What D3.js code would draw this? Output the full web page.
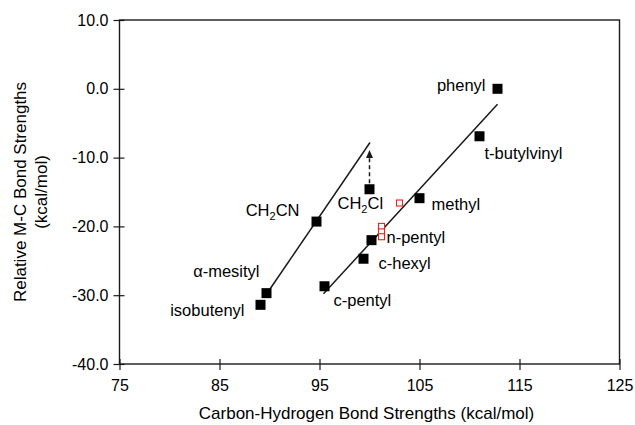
<!DOCTYPE html>
<html>
<head>
<meta charset="utf-8">
<script src="https://cdn.jsdelivr.net/npm/d3@7/dist/d3.min.js"></script>
<style>
  html, body { margin: 0; padding: 0; background: #fff; }
  svg { display: block; font-family: "Liberation Sans", Arial, sans-serif; }
</style>
</head>
<body>
<svg id="chart" width="635" height="425"></svg>
<script>
// ---- data ----
const pointNames = ["phenyl", "t-butylvinyl", "methyl", "CH2Cl", "n-pentyl", "c-hexyl", "c-pentyl", "CH2CN", "α-mesityl", "isobutenyl"];
const chBond   = [112.8, 111.0, 105.0, 100.0, 100.2, 99.4, 95.5, 94.7, 89.7, 89.1];
const mcBond   = [0.0, -6.9, -15.9, -14.6, -22.0, -24.7, -28.7, -19.3, -29.7, -31.4];

const openX = [103.0, 101.2, 101.2, 101.2];
const openY = [-16.6, -20.0, -20.8, -21.5];

const fitLeftX  = [90.05, 100.05];
const fitLeftY  = [-29.1, -7.8];
const fitRightX = [95.4, 112.8];
const fitRightY = [-29.8, -2.25];

const arrowX = [100.0, 100.0];
const arrowY = [-14.6, -8.9];

const xTicks = [75, 85, 95, 105, 115, 125];
const yTicks = [10, 0, -10, -20, -30, -40];

// label placement (pixel offsets from the marker, anchor)
const labelOffsets = {
  "phenyl": [-12, 2, "end"],
  "t-butylvinyl": [5, 23, "start"],
  "methyl": [12, 12, "start"],
  "CH2Cl": [-32, 20, "start"],
  "n-pentyl": [15, 3, "start"],
  "c-hexyl": [15, 10, "start"],
  "c-pentyl": [9, 20, "start"],
  "CH2CN": [-17, -6, "end"],
  "α-mesityl": [-7, -16, "end"],
  "isobutenyl": [-16, 11, "end"]
};

// ---- layout ----
const svg = d3.select("#chart");
const pLeft = 119.5, pRight = 619.5, pTop = 20, pBottom = 364;
const x = d3.scaleLinear().domain([75, 125]).range([pLeft, pRight]);
const y = d3.scaleLinear().domain([-40, 10]).range([pBottom, pTop]);
const ink = "#1a1a1a";

// frame
svg.append("rect")
  .attr("x", pLeft).attr("y", pTop)
  .attr("width", pRight - pLeft).attr("height", pBottom - pTop)
  .attr("fill", "none").attr("stroke", ink).attr("stroke-width", 1.4);

// x axis
const xAxis = d3.axisBottom(x).tickValues(xTicks).tickFormat(d => String(d)).tickSizeInner(6).tickSizeOuter(0).tickPadding(10);
const gx = svg.append("g").attr("transform", `translate(0,${pBottom})`).call(xAxis);
gx.select(".domain").remove();
gx.selectAll(".tick line").attr("y1", -5).attr("y2", 6).attr("stroke", ink).attr("stroke-width", 1.2);
gx.selectAll(".tick text").attr("font-size", 16).attr("fill", "#000").attr("font-family", "Liberation Sans, Arial, sans-serif");

// y axis
const yAxis = d3.axisLeft(y).tickValues(yTicks).tickFormat(d => d.toFixed(1)).tickSizeInner(6).tickSizeOuter(0).tickPadding(5);
const gy = svg.append("g").attr("transform", `translate(${pLeft},0)`).call(yAxis);
gy.select(".domain").remove();
gy.selectAll(".tick line").attr("x1", -6).attr("x2", 5).attr("stroke", ink).attr("stroke-width", 1.2);
gy.selectAll(".tick text").attr("font-size", 16).attr("fill", "#000").attr("font-family", "Liberation Sans, Arial, sans-serif");

// axis titles
svg.append("text")
  .attr("x", (pLeft + pRight) / 2 - 3).attr("y", 419)
  .attr("text-anchor", "middle").attr("font-size", 17).attr("fill", "#000")
  .text("Carbon-Hydrogen Bond Strengths (kcal/mol)");

const yt = svg.append("text")
  .attr("transform", `translate(26,${(pTop + pBottom) / 2}) rotate(-90)`)
  .attr("text-anchor", "middle").attr("font-size", 17).attr("fill", "#000");
yt.append("tspan").attr("x", 0).attr("dy", 0).text("Relative M-C Bond Strengths");
yt.append("tspan").attr("x", 0).attr("dy", 21).text("(kcal/mol)");

// fit lines
const line = d3.line().x(d => x(d[0])).y(d => y(d[1]));
svg.append("path").datum(d3.zip(fitLeftX, fitLeftY)).attr("d", line)
  .attr("fill", "none").attr("stroke", ink).attr("stroke-width", 1.5);
svg.append("path").datum(d3.zip(fitRightX, fitRightY)).attr("d", line)
  .attr("fill", "none").attr("stroke", ink).attr("stroke-width", 1.5);

// dashed arrow
const ax0 = x(arrowX[0]), ay0 = y(arrowY[0]), ay1 = y(arrowY[1]);
svg.append("line")
  .attr("x1", ax0).attr("y1", ay0 - 6).attr("x2", ax0).attr("y2", ay1 + 7)
  .attr("stroke", ink).attr("stroke-width", 1.5).attr("stroke-dasharray", "4,3");
svg.append("path")
  .attr("d", `M${ax0},${ay1} L${ax0 - 3.5},${ay1 + 8} L${ax0 + 3.5},${ay1 + 8} Z`)
  .attr("fill", ink);

// black squares
const s = 10;
svg.append("g").selectAll("rect").data(d3.range(pointNames.length)).join("rect")
  .attr("x", i => x(chBond[i]) - s / 2)
  .attr("y", i => y(mcBond[i]) - s / 2)
  .attr("width", s).attr("height", s)
  .attr("fill", "#000");

// red open squares
const r = 6;
svg.append("g").selectAll("rect").data(d3.range(openX.length)).join("rect")
  .attr("x", i => x(openX[i]) - r / 2)
  .attr("y", i => y(openY[i]) - r / 2)
  .attr("width", r).attr("height", r)
  .attr("fill", "#fff").attr("stroke", "#e8231f").attr("stroke-width", 1.1);

// labels
const lg = svg.append("g").attr("font-size", 16.5).attr("fill", "#000");
pointNames.forEach((name, i) => {
  const [dx, dy, anchor] = labelOffsets[name];
  const t = lg.append("text")
    .attr("x", x(chBond[i]) + dx)
    .attr("y", y(mcBond[i]) + dy)
    .attr("text-anchor", anchor);
  if (name.startsWith("CH2")) {
    t.append("tspan").text("CH");
    t.append("tspan").attr("font-size", 11).attr("dy", 4).text("2");
    t.append("tspan").attr("dy", -4).text(name.slice(3));
  } else {
    t.text(name);
  }
});
</script>
</body>
</html>
